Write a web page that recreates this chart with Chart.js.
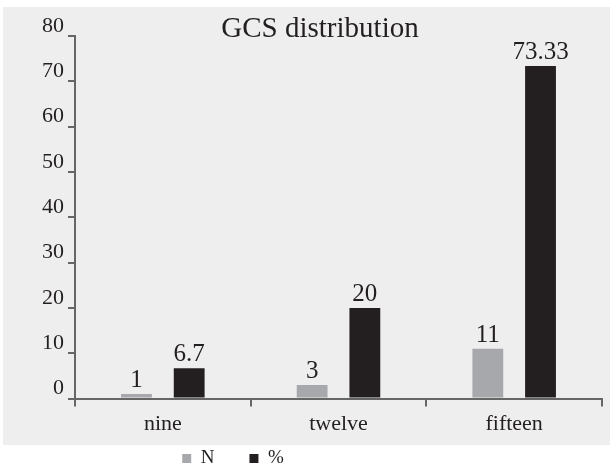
<!DOCTYPE html>
<html>
<head>
<meta charset="utf-8">
<script src="https://cdn.jsdelivr.net/npm/chart.js@4/dist/chart.umd.min.js"></script>
<style>
  html, body { margin: 0; padding: 0; background: #fff; }
  #wrap { width: 610px; height: 471px; }
</style>
</head>
<body>
<div id="wrap"><canvas id="chart"></canvas></div>
<script>
const categories = ["nine", "twelve", "fifteen"]
const countValues = [1, 3, 11]
const percentValues = [6.7, 20, 73.33]
const countLabels = ["1", "3", "11"]
const percentLabels = ["6.7", "20", "73.33"]

const serif = "'Liberation Serif', 'Times New Roman', serif"
const ink = '#231f20'
const axisGray = '#666666'

// сдвиг легенды относительно стандартного места
const legendDX = -87
const legendDY = -27

// светло-серый фон под графиком, легенда остаётся на белом
const panelBg = {
    id: 'panelBg',
    beforeDraw(chart) {
        const ctx = chart.ctx
        ctx.save()
        ctx.fillStyle = '#eeeeee'
        ctx.fillRect(3, 7, 607, 438)
        ctx.restore()
        chart.legend.left += legendDX
        chart.legend.right += legendDX
        chart.legend.top += legendDY
        chart.legend.bottom += legendDY
    },
    afterDraw(chart) {
        chart.legend.left -= legendDX
        chart.legend.right -= legendDX
        chart.legend.top -= legendDY
        chart.legend.bottom -= legendDY
    }
}

// подписи значений над столбиками
const barValues = {
    id: 'barValues',
    afterDatasetsDraw(chart) {
        const ctx = chart.ctx
        const texts = [countLabels, percentLabels]
        ctx.save()
        ctx.font = '25px ' + serif
        ctx.fillStyle = ink
        ctx.textAlign = 'center'
        ctx.textBaseline = 'alphabetic'
        chart.data.datasets.forEach(function(ds, i) {
            chart.getDatasetMeta(i).data.forEach(function(bar, j) {
                ctx.fillText(texts[i][j], bar.x, bar.y - 7)
            })
        })
        ctx.restore()
    }
}

new Chart(document.getElementById('chart'), {
    type: 'bar',
    data: {
        labels: categories,
        datasets: [
            { label: 'N', data: countValues, backgroundColor: '#a7a8ab', borderWidth: 0 },
            { label: '%', data: percentValues, backgroundColor: ink, borderWidth: 0 }
        ]
    },
    options: {
        responsive: true,
        maintainAspectRatio: false,
        animation: false,
        devicePixelRatio: 1,
        layout: { padding: { top: 12, left: 38, right: 8, bottom: -34 } },
        categoryPercentage: 0.6,
        barPercentage: 0.585,
        plugins: {
            title: {
                display: true,
                text: 'GCS distribution',
                color: ink,
                font: { family: serif, size: 29, weight: 'normal' },
                padding: { top: 0, bottom: -11 }
            },
            legend: {
                position: 'bottom',
                labels: {
                    color: ink,
                    font: { family: serif, size: 19 },
                    boxWidth: 9,
                    boxHeight: 9,
                    padding: 35
                }
            },
            tooltip: { enabled: false }
        },
        scales: {
            x: {
                border: { color: axisGray, width: 2 },
                grid: { drawOnChartArea: false, color: axisGray, tickLength: 8, lineWidth: 2 },
                ticks: { color: ink, font: { family: serif, size: 22 }, padding: 4 }
            },
            y: {
                min: 0,
                max: 80,
                border: { color: axisGray, width: 2 },
                grid: { drawOnChartArea: false, color: axisGray, tickLength: 7, lineWidth: 2 },
                ticks: { stepSize: 10, color: ink, font: { family: serif, size: 22 }, padding: 4, labelOffset: -10 }
            }
        }
    },
    plugins: [panelBg, barValues]
})
</script>
</body>
</html>
